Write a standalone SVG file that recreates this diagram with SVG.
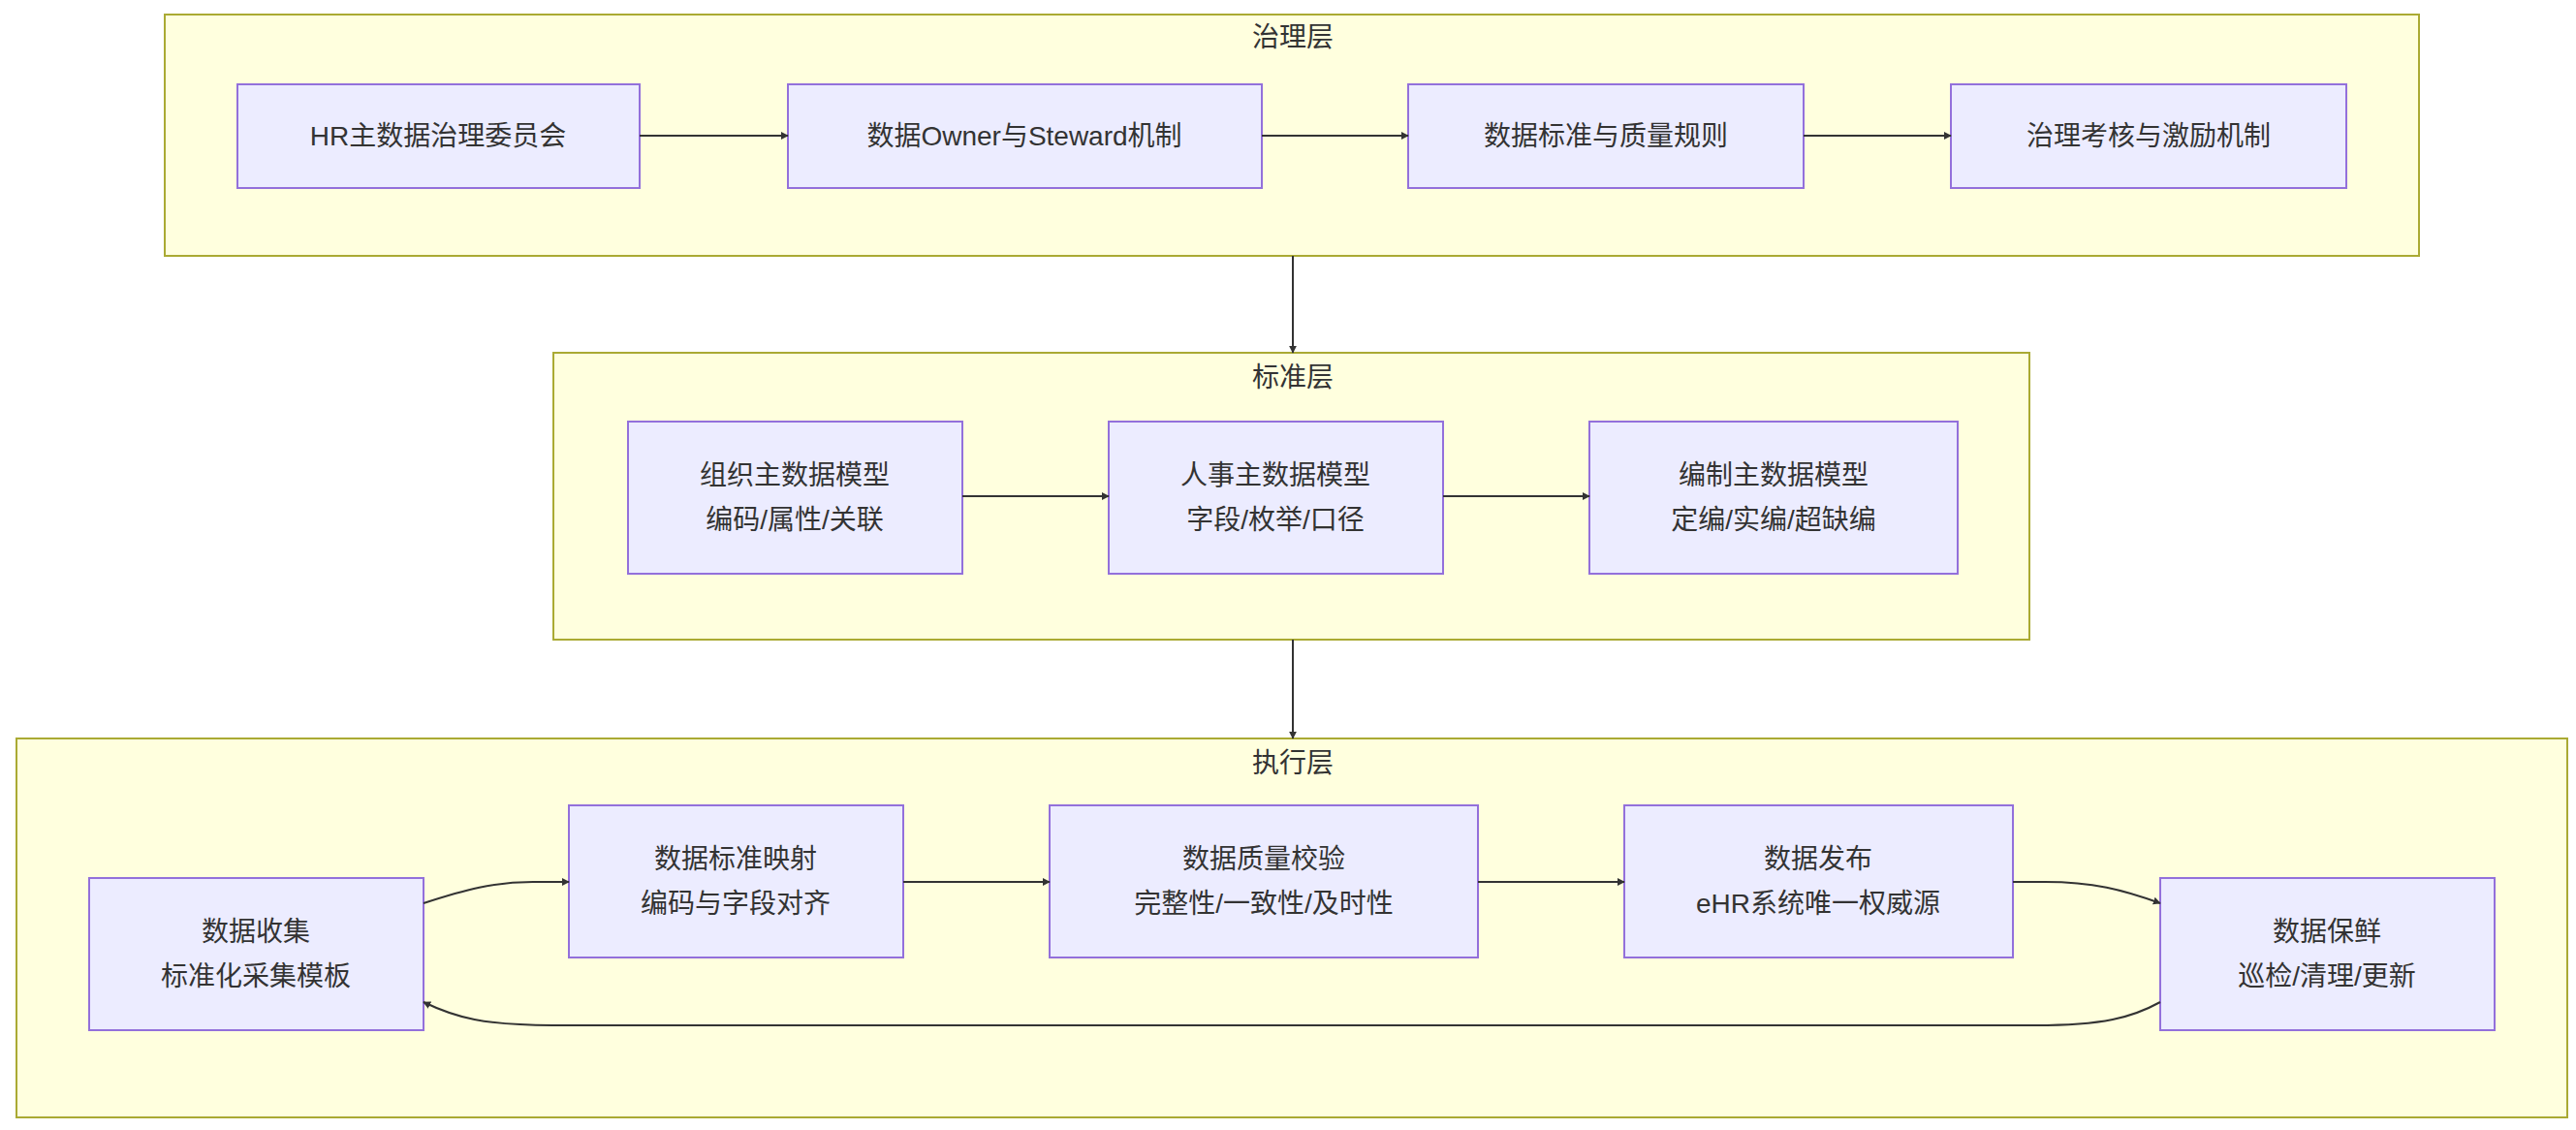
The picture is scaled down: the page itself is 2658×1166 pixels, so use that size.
<svg xmlns="http://www.w3.org/2000/svg" width="2658" height="1166" viewBox="0 0 2658 1166">
<style>
.c{fill:#ffffde;stroke:#aaaa33;stroke-width:2}
.n{fill:#ececff;stroke:#9370db;stroke-width:2}
text{font-family:"Liberation Sans","Noto Sans CJK SC",sans-serif;font-size:28px;fill:#333;text-anchor:middle;dominant-baseline:central}
.e{fill:none;stroke:#333;stroke-width:2;marker-end:url(#a)}
</style>
<defs><marker id="a" viewBox="0 0 10 10" refX="9" refY="5" markerWidth="8" markerHeight="8" orient="auto" markerUnits="userSpaceOnUse"><path d="M0,0L10,5L0,10z" fill="#333"/></marker></defs>
<rect fill="#fff" width="2658" height="1166"/>
<g id="gov"><rect class="c" x="170" y="15" width="2326" height="249"/><text x="1334" y="38">治理层</text></g>
<g id="std"><rect class="c" x="571" y="364" width="1523" height="296"/><text x="1334" y="389">标准层</text></g>
<g id="exe"><rect class="c" x="17" y="762" width="2632" height="391"/><text x="1334" y="787">执行层</text></g>
<g id="n1"><rect class="n" x="245" y="87" width="415" height="107"/><text x="452" y="140">HR主数据治理委员会</text></g>
<g id="n2"><rect class="n" x="813" y="87" width="489" height="107"/><text x="1057" y="140">数据Owner与Steward机制</text></g>
<g id="n3"><rect class="n" x="1453" y="87" width="408" height="107"/><text x="1657" y="140">数据标准与质量规则</text></g>
<g id="n4"><rect class="n" x="2013" y="87" width="408" height="107"/><text x="2217" y="140">治理考核与激励机制</text></g>
<g id="s1"><rect class="n" x="648" y="435" width="345" height="157"/><text x="820" y="490">组织主数据模型</text><text x="820" y="536">编码/属性/关联</text></g>
<g id="s2"><rect class="n" x="1144" y="435" width="345" height="157"/><text x="1316" y="490">人事主数据模型</text><text x="1316" y="536">字段/枚举/口径</text></g>
<g id="s3"><rect class="n" x="1640" y="435" width="380" height="157"/><text x="1830" y="490">编制主数据模型</text><text x="1830" y="536">定编/实编/超缺编</text></g>
<g id="e1"><rect class="n" x="92" y="906" width="345" height="157"/><text x="264" y="961">数据收集</text><text x="264" y="1007">标准化采集模板</text></g>
<g id="e2"><rect class="n" x="587" y="831" width="345" height="157"/><text x="759" y="886">数据标准映射</text><text x="759" y="932">编码与字段对齐</text></g>
<g id="e3"><rect class="n" x="1083" y="831" width="442" height="157"/><text x="1304" y="886">数据质量校验</text><text x="1304" y="932">完整性/一致性/及时性</text></g>
<g id="e4"><rect class="n" x="1676" y="831" width="401" height="157"/><text x="1876" y="886">数据发布</text><text x="1876" y="932">eHR系统唯一权威源</text></g>
<g id="e5"><rect class="n" x="2229" y="906" width="345" height="157"/><text x="2401" y="961">数据保鲜</text><text x="2401" y="1007">巡检/清理/更新</text></g>
<g id="edges">
<path class="e" d="M660,140H813"/><path class="e" d="M1302,140H1453"/><path class="e" d="M1861,140H2013"/>
<path class="e" d="M1334,264V364"/><path class="e" d="M1334,660V762"/>
<path class="e" d="M993,512H1144"/><path class="e" d="M1489,512H1640"/>
<path class="e" d="M437,932C480,918 510,910 550,910H587"/>
<path class="e" d="M932,910H1083"/><path class="e" d="M1525,910H1676"/>
<path class="e" d="M2077,910H2110C2160,910 2190,918 2229,932"/>
<path class="e" d="M2229,1034C2200,1050 2170,1058 2100,1058H570C500,1058 470,1050 437,1034"/>
</g>
</svg>
